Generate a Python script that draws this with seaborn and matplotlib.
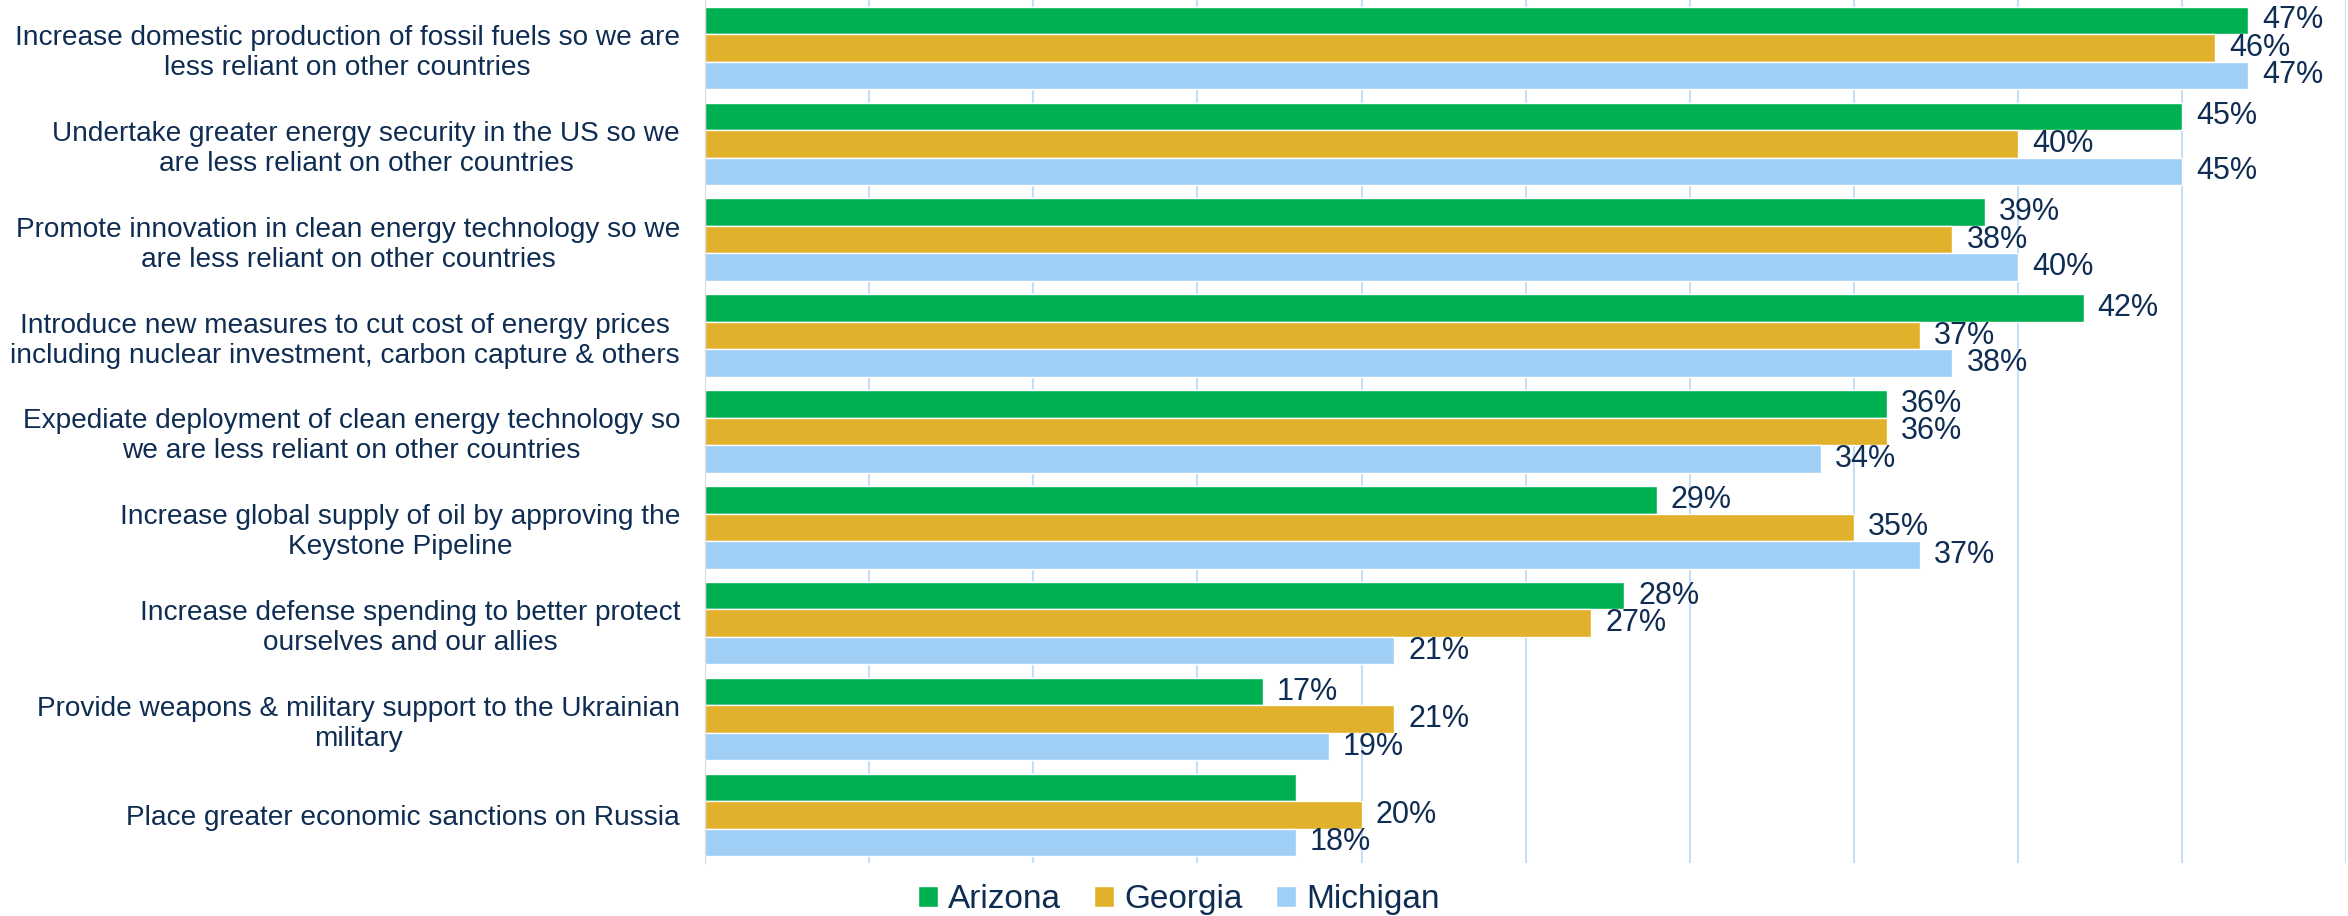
import pandas as pd
import matplotlib.pyplot as plt
import seaborn as sns
from matplotlib.patches import Patch

categories = [
    'Increase domestic production of fossil fuels so we are\nless reliant on other countries',
    'Undertake greater energy security in the US so we\nare less reliant on other countries',
    'Promote innovation in clean energy technology so we\nare less reliant on other countries',
    'Introduce new measures to cut cost of energy prices\nincluding nuclear investment, carbon capture & others',
    'Expediate deployment of clean energy technology so\nwe are less reliant on other countries',
    'Increase global supply of oil by approving the\nKeystone Pipeline',
    'Increase defense spending to better protect\nourselves and our allies',
    'Provide weapons & military support to the Ukrainian\nmilitary',
    'Place greater economic sanctions on Russia',
]
states = ['Arizona', 'Georgia', 'Michigan']
arizona = [47, 45, 39, 42, 36, 29, 28, 17, 18]
georgia = [46, 40, 38, 37, 36, 35, 27, 21, 20]
michigan = [47, 45, 40, 38, 34, 37, 21, 19, 18]
# the Arizona bar of the last row has no value label in the original
unlabelled = {('Arizona', 8)}

colors = ['#00B050', '#E1B12C', '#9FCFF5']
text_color = '#0F2D52'

df = pd.DataFrame({
    'category': categories * 3,
    'state': [s for s in states for _ in categories],
    'value': arizona + georgia + michigan,
})

sns.set_style('white')
plt.rcParams['font.family'] = ['Liberation Sans', 'DejaVu Sans']

fig = plt.figure(figsize=(23.48, 9.16), dpi=100)
ax = fig.add_axes([0.3003, 0.058, 0.699, 0.942])

sns.barplot(data=df, x='value', y='category', hue='state', palette=colors,
            width=0.86, orient='h', ax=ax, legend=False, saturation=1)

for state, cont in zip(states, ax.containers):
    labels = []
    for i, bar in enumerate(cont):
        labels.append('' if (state, i) in unlabelled else f'{bar.get_width():.0f}%')
    ax.bar_label(cont, labels=labels, padding=10, fontsize=22, color=text_color)

ax.set_xlim(0, 50)
ax.set_xticks(range(0, 51, 5))
ax.set_xticklabels([])
ax.grid(axis='x', color='#C6DFF4', linewidth=1.5)
ax.set_axisbelow(True)
ax.set_xlabel('')
ax.set_ylabel('')
for s in ['top', 'right', 'bottom']:
    ax.spines[s].set_visible(False)
ax.spines['left'].set_color('#D9D9D9')
ax.tick_params(axis='y', length=0, pad=18, labelsize=20.2, labelcolor=text_color)
ax.tick_params(axis='x', length=0)
for t in ax.get_yticklabels():
    t.set_multialignment('center')

handles = [Patch(facecolor=c, label=s) for s, c in zip(states, colors)]
fig.legend(handles=handles, loc='center', bbox_to_anchor=(0.502, 0.018), ncol=3,
           frameon=False, fontsize=24, handlelength=0.6, handleheight=0.6,
           handletextpad=0.3, columnspacing=1.0, labelcolor=text_color)

fig.savefig('out.png', dpi=100)
